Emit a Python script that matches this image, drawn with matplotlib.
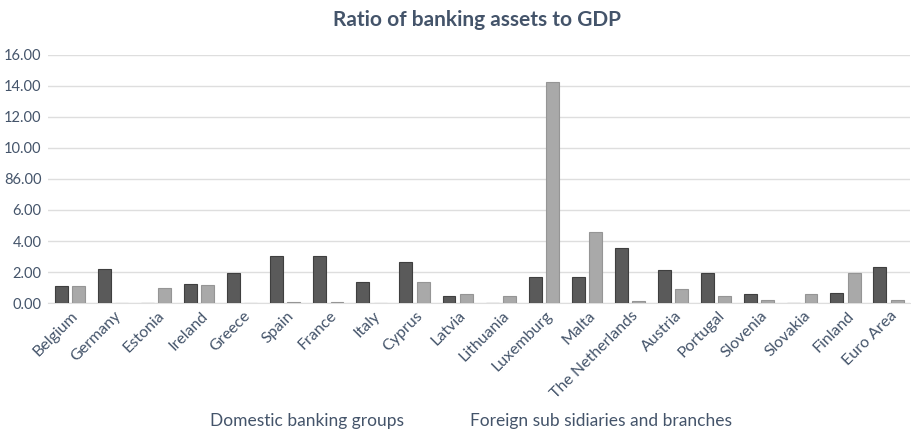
import matplotlib
matplotlib.use("Agg")
import matplotlib.pyplot as plt
import matplotlib.transforms as mtransforms
import numpy as np

countries = ["Belgium", "Germany", "Estonia", "Ireland", "Greece", "Spain", "France",
             "Italy", "Cyprus", "Latvia", "Lithuania", "Luxemburg", "Malta",
             "The Netherlands", "Austria", "Portugal", "Slovenia", "Slovakia",
             "Finland", "Euro Area"]
domestic = [1.09, 2.19, 0.0, 1.22, 1.91, 3.04, 3.04, 1.37, 2.66, 0.47, 0.0, 1.69, 1.69,
            3.54, 2.16, 1.91, 0.62, 0.0, 0.68, 2.32]
foreign = [1.09, 0.0, 0.97, 1.16, 0.0, 0.05, 0.05, 0.0, 1.37, 0.62, 0.47, 14.24, 4.57,
           0.13, 0.90, 0.43, 0.21, 0.62, 1.91, 0.21]
ytick_values = [0, 2, 4, 6, 8, 10, 12, 14, 16]
ytick_labels = ["0.00", "2.00", "4.00", "6.00", "86.00", "10.00", "12.00", "14.00", "16.00"]
series_labels = ["Domestic banking groups", "Foreign sub sidiaries and branches"]
title = "Ratio of banking assets to GDP"

plt.rcParams['font.family'] = ['Lato', 'DejaVu Sans']
text_color = "#44546A"

fig = plt.figure(figsize=(9.11, 4.30), dpi=100)
ax = fig.add_axes([0.053, 0.295, 0.946, 0.578])

x = np.arange(len(countries))
w = 0.3
b1 = ax.bar(x - 0.2, domestic, width=w, color="#5a5a5a", edgecolor="#3f3f3f", linewidth=0.8,
            label=series_labels[0], zorder=3)
b2 = ax.bar(x + 0.2, foreign, width=w, color="#a9a9a9", edgecolor="#959595", linewidth=0.8,
            label=series_labels[1], zorder=3)

ax.set_xlim(-0.5, len(countries) - 0.5)
ax.set_ylim(0, 16)
ax.tick_params(axis="both", length=0, pad=4)
ax.tick_params(axis="y", pad=5)
ax.set_yticks(ytick_values)
ax.set_yticklabels(ytick_labels, fontsize=10.5, color=text_color)
ax.set_xticks(x)
ax.set_xticklabels(countries, rotation=45, ha="right", va="center", rotation_mode="anchor",
                   fontsize=11.5, color=text_color)
offset = mtransforms.ScaledTranslation(4.5 / 72, -3.5 / 72, fig.dpi_scale_trans)
for lbl in ax.get_xticklabels():
    lbl.set_transform(lbl.get_transform() + offset)
ax.grid(axis="y", color="#dedede", linewidth=1, zorder=0)
for s in ["top", "right", "left"]:
    ax.spines[s].set_visible(False)
ax.spines["bottom"].set_color("#dedede")

fig.text(0.524, 0.953, title, fontsize=15, fontweight="bold", color=text_color,
         ha="center", va="center")

leg = fig.legend(handles=[b1, b2], labels=series_labels, loc="center",
                 bbox_to_anchor=(0.517, 0.021), ncol=2, frameon=False,
                 handlelength=0, handletextpad=0, columnspacing=3.8, fontsize=12.5)
for h in leg.legend_handles:
    h.set_visible(False)
for t in leg.get_texts():
    t.set_color(text_color)

fig.savefig("out.png", dpi=100)
